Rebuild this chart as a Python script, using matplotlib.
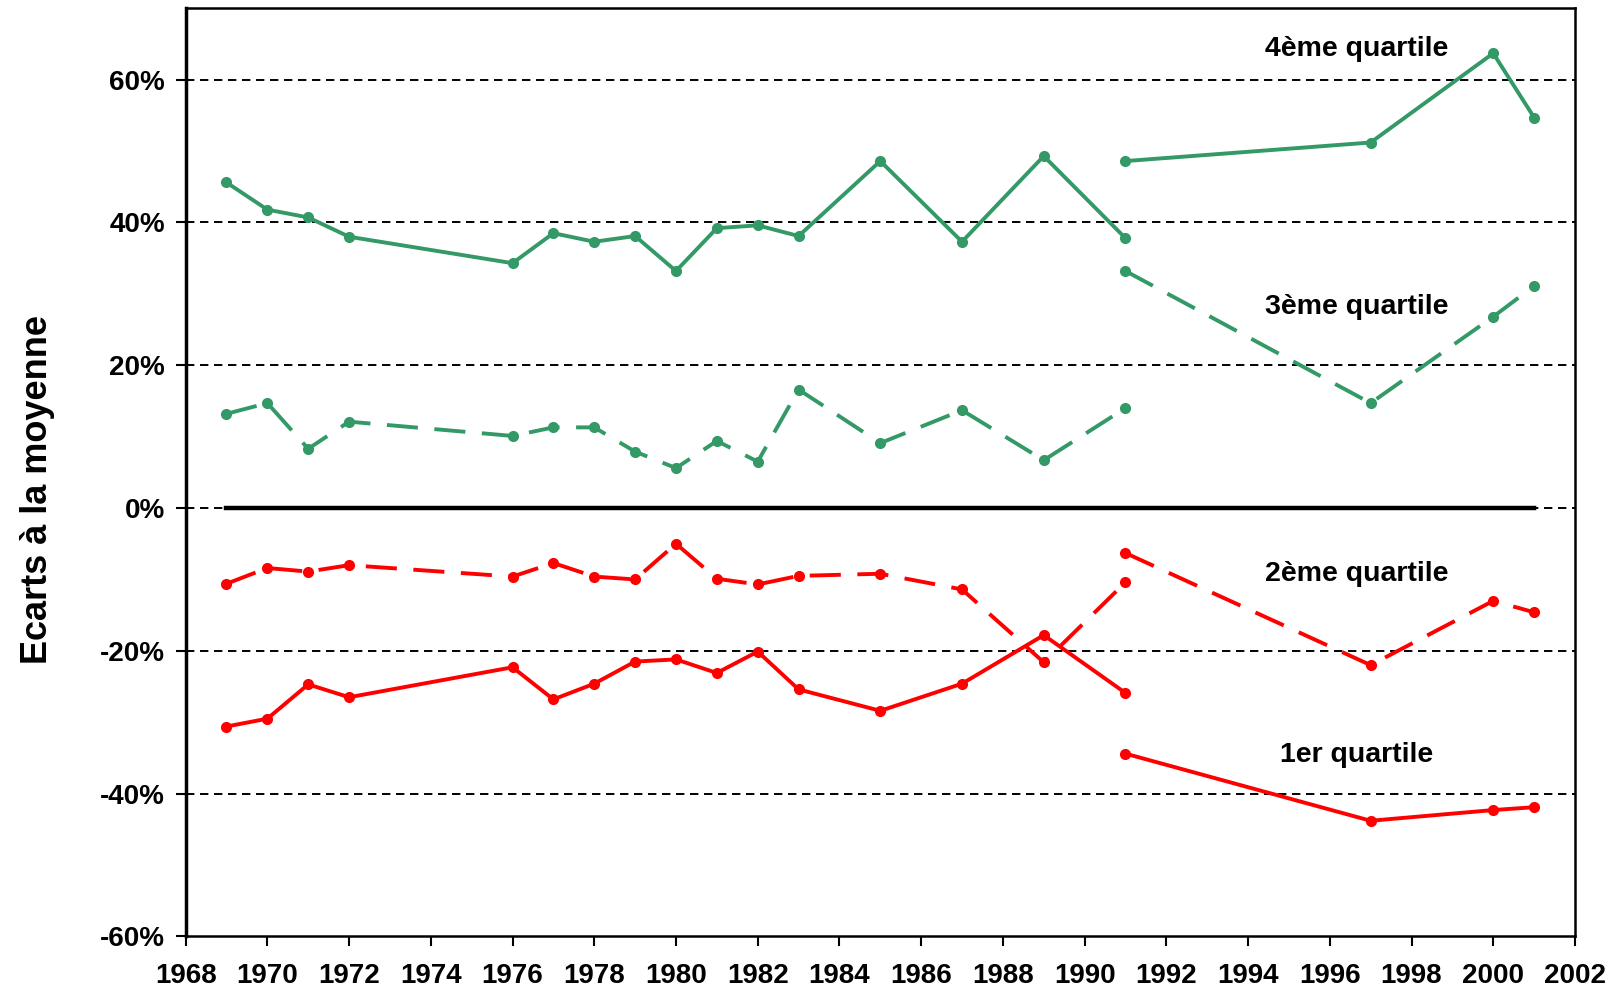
import matplotlib
matplotlib.use("Agg")
import matplotlib.pyplot as plt
from matplotlib.ticker import FuncFormatter

# data (% deviation from the mean)
years_a = [1969, 1970, 1971, 1972, 1976, 1977, 1978, 1979, 1980, 1981, 1982, 1983, 1985, 1987, 1989, 1991]
years_b = [1991, 1997, 2000, 2001]

q4_a = [45.6, 41.8, 40.7, 38.0, 34.3, 38.5, 37.3, 38.1, 33.2, 39.2, 39.6, 38.1, 48.6, 37.3, 49.3, 37.8]
q4_b = [48.6, 51.2, 63.7, 54.7]
q3_a = [13.2, 14.7, 8.3, 12.1, 10.1, 11.3, 11.3, 7.9, 5.6, 9.4, 6.5, 16.6, 9.1, 13.7, 6.7, 14.0]
q3_b = [33.2, 14.7, 26.8, 31.1]
q2_a = [-10.6, -8.4, -8.9, -8.0, -9.6, -7.7, -9.6, -10.0, -5.0, -9.9, -10.7, -9.5, -9.2, -11.4, -21.6, -10.4]
q2_b = [-6.3, -22.0, -13.0, -14.6]
q1_a = [-30.6, -29.5, -24.7, -26.5, -22.3, -26.8, -24.6, -21.5, -21.2, -23.1, -20.1, -25.4, -28.4, -24.6, -17.8, -25.9]
q1_b = [-34.4, -43.8, -42.3, -41.9]

labels = ["4ème quartile", "3ème quartile", "2ème quartile", "1er quartile"]
label_y = [64.3, 28.1, -9.3, -34.6]

green = "#339966"
red = "#ff0000"

plt.rcParams["font.family"] = ["Liberation Sans", "DejaVu Sans"]
plt.rcParams["font.weight"] = "bold"

fig = plt.figure(figsize=(16.17, 9.98), dpi=100)
ax = fig.add_axes([0.1148, 0.0617, 0.974 - 0.1148, 0.9917 - 0.0617])

for v in [60, 40, 20, 0, -20, -40]:
    ax.axhline(v, color="black", lw=1.4, ls=(0, (4.3, 2.9)), zorder=1)

ax.plot([years_a[0], years_b[-1]], [0, 0], color="black", lw=3.2, zorder=2)

dash = (0, (8, 4.25))
lw = 2.8
mk = dict(marker="o", ms=7)
ax.plot(years_a, q4_a, color=green, lw=lw, **mk, zorder=3)
ax.plot(years_b, q4_b, color=green, lw=lw, **mk, zorder=3)
ax.plot(years_a, q3_a, color=green, lw=lw, ls=dash, **mk, zorder=3)
ax.plot(years_b, q3_b, color=green, lw=lw, ls=dash, **mk, zorder=3)
ax.plot(years_a, q2_a, color=red, lw=lw, ls=dash, **mk, zorder=3)
ax.plot(years_b, q2_b, color=red, lw=lw, ls=dash, **mk, zorder=3)
ax.plot(years_a, q1_a, color=red, lw=lw, **mk, zorder=3)
ax.plot(years_b, q1_b, color=red, lw=lw, **mk, zorder=3)

for txt, y in zip(labels, label_y):
    ax.text(1996.65, y, txt, ha="center", va="center", fontsize=20.5, fontweight="bold")

ax.set_xlim(1968, 2002)
ax.set_ylim(-60, 70)
ax.set_xticks(range(1968, 2003, 2))
ax.set_yticks(range(-60, 61, 20))
ax.yaxis.set_major_formatter(FuncFormatter(lambda v, p: f"{int(v)}%"))
ax.tick_params(axis="both", direction="out", length=7, width=1.5, labelsize=20)
ax.tick_params(axis="x", pad=12)
ax.tick_params(axis="y", pad=8)
for s in ax.spines.values():
    s.set_linewidth(1.8)
ax.spines["left"].set_linewidth(2.5)

ax.set_ylabel("Ecarts à la moyenne", fontsize=26, fontweight="bold")
ax.yaxis.set_label_coords(-0.094, 0.482)

fig.savefig("out.png", dpi=100)
